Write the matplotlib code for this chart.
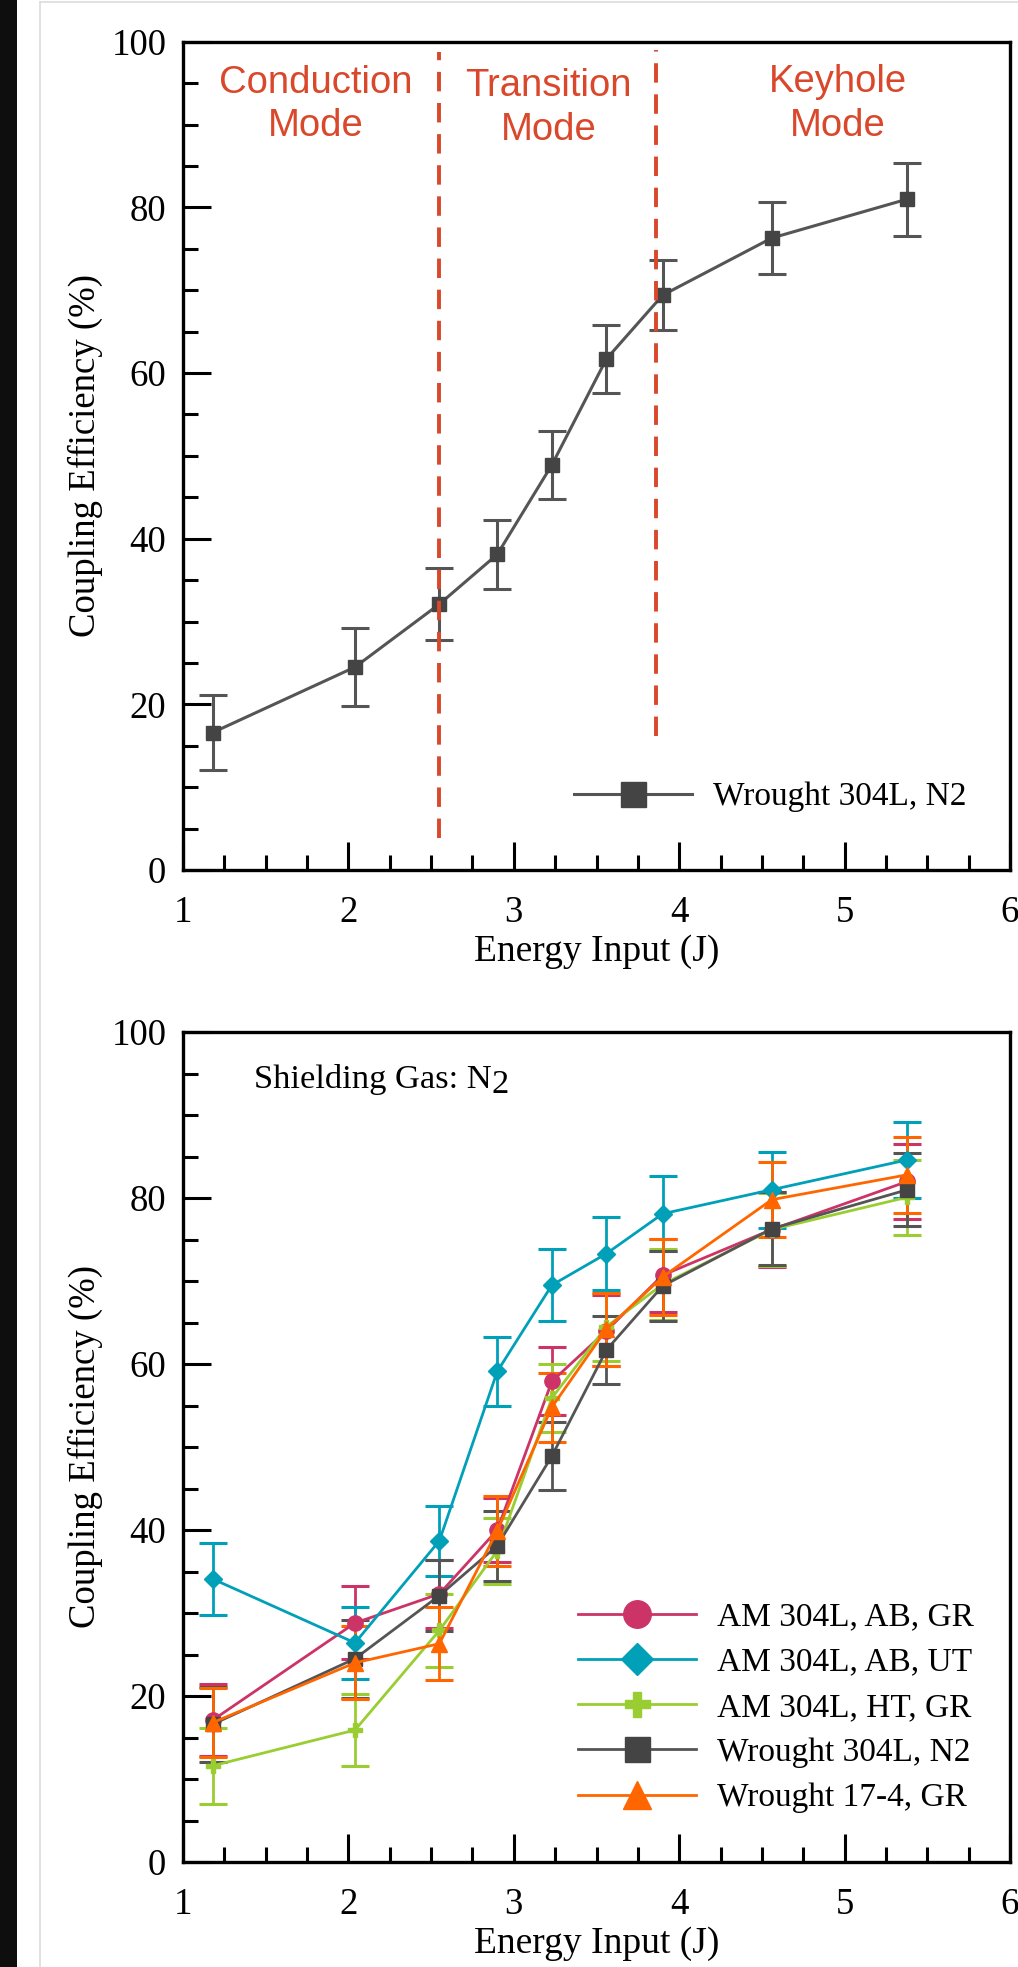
import numpy as np
from matplotlib import pyplot as plt
from matplotlib.ticker import MultipleLocator
from matplotlib.patches import Rectangle
from matplotlib.lines import Line2D


plt.rcParams['font.family'] = ['Liberation Serif', 'DejaVu Serif']


# energy input (J), shared by every series
energy = [1.18, 2.04, 2.55, 2.90, 3.23, 3.56, 3.90, 4.56, 5.38]

# coupling efficiency (%) and error
wrought_304    = [16.6, 24.5, 32.1, 38.1, 48.9, 61.7, 69.4, 76.3, 81.0]
wrought_304_e  = [4.5, 4.7, 4.3, 4.2, 4.1, 4.1, 4.25, 4.4, 4.4]
am_ab_gr       = [17.1, 28.8, 32.3, 40.0, 57.9, 64.0, 70.7, 76.2, 82.0]
am_ab_gr_e     = [4.3, 4.4, 4.1, 3.9, 4.1, 4.3, 4.4, 4.5, 4.5]
am_ab_ut       = [34.1, 26.4, 38.7, 59.1, 69.5, 73.3, 78.1, 81.0, 84.6]
am_ab_ut_e     = [4.3, 4.3, 4.2, 4.2, 4.3, 4.4, 4.5, 4.6, 4.6]
am_ht_gr       = [11.6, 15.9, 27.9, 37.5, 55.9, 64.5, 69.6, 76.2, 80.1]
am_ht_gr_e     = [4.6, 4.3, 4.4, 4.0, 4.15, 4.1, 4.3, 4.45, 4.5]
wrought_174    = [16.8, 24.0, 26.3, 39.9, 54.8, 64.2, 70.5, 79.8, 82.8]
wrought_174_e  = [4.2, 4.4, 4.4, 4.2, 4.15, 4.4, 4.6, 4.55, 4.55]

# mode boundaries (J) and labels
mode_bounds   = [2.55, 3.86]
mode_limits   = [(3.9, 98.7), (16.2, 99.0)]
mode_labels   = ['Conduction\nMode', 'Transition\nMode', 'Keyhole\nMode']
mode_label_x  = [1.80, 3.21, 4.96]
mode_label_y  = [92.4, 92.0, 92.5]

red = '#d9482b'

W, H, DPI = 1018, 1967, 100
fig = plt.figure(figsize=(W/DPI, H/DPI), dpi=DPI)

# page decorations: black strip and faint panel border
fig.patches.append(Rectangle((0, 0), 17/W, 1, transform=fig.transFigure,
                             facecolor='#0e0e0e', edgecolor='none'))
fig.lines.append(Line2D([40/W, 40/W], [0, 1-2/H], transform=fig.transFigure,
                        color='#dcdcdc', lw=1.2))
fig.lines.append(Line2D([40/W, 1], [1-2/H, 1-2/H], transform=fig.transFigure,
                        color='#dcdcdc', lw=1.2))

ax1 = fig.add_axes([183/W, 1-870/H, 827/W, 828.3/H])
ax2 = fig.add_axes([183/W, 1-1862/H, 827/W, 830/H])


def style_axes(ax):
    ax.set_xlim(1, 6)
    ax.set_ylim(0, 100)
    ax.xaxis.set_major_locator(MultipleLocator(1))
    ax.xaxis.set_minor_locator(MultipleLocator(0.25))
    ax.yaxis.set_major_locator(MultipleLocator(20))
    ax.yaxis.set_minor_locator(MultipleLocator(5))
    ax.tick_params(which='both', direction='in', top=False, right=False,
                   width=2.2, labelsize=26.5)
    ax.tick_params(axis='y', pad=12)
    ax.tick_params(axis='x', pad=18)
    ax.tick_params(which='major', length=20)
    ax.tick_params(which='minor', length=11)
    for s in ax.spines.values():
        s.set_linewidth(2.4)
    ax.set_xlabel('Energy Input (J)', fontsize=27)
    ax.set_ylabel('Coupling Efficiency (%)', fontsize=26.5)
    ax.xaxis.set_label_coords(0.5, -0.078)
    ax.yaxis.set_label_coords(-0.097, 0.5)


style_axes(ax1)
style_axes(ax2)

# --- top panel ---
dark = '#555555'
eb = ax1.errorbar(energy, wrought_304, yerr=wrought_304_e, color=dark, lw=2.2,
                  marker='s', ms=10, mfc='#444444', mec='#444444',
                  elinewidth=2.2, capsize=10.4, capthick=2.2, zorder=3)
for xb, (y0, y1) in zip(mode_bounds, mode_limits):
    ax1.plot([xb, xb], [y0, y1], color=red, lw=2.8,
             linestyle=(0, (5.0, 3.0)), zorder=4)
for xt, yt, tt in zip(mode_label_x, mode_label_y, mode_labels):
    ax1.text(xt, yt, tt, color=red, fontsize=27.5, family='Liberation Sans',
             ha='center', va='center', linespacing=1.27)
ax1.legend([eb[0]], ['Wrought 304L, N2'], loc='center left',
           bbox_to_anchor=(0.4728, 0.0881), frameon=False,
           fontsize=24, handlelength=3.55, handletextpad=0.63,
           borderpad=0, borderaxespad=0, markerscale=1.8)

# --- bottom panel ---
series = [
    ('AM 304L, AB, GR', am_ab_gr, am_ab_gr_e, '#cc3366', 'o', 11),
    ('AM 304L, AB, UT', am_ab_ut, am_ab_ut_e, '#00a0b8', 'D', 9),
    ('AM 304L, HT, GR', am_ht_gr, am_ht_gr_e, '#9acd32', 'P', 10),
    ('Wrought 304L, N2', wrought_304, wrought_304_e, dark, 's', 10),
    ('Wrought 17-4, GR', wrought_174, wrought_174_e, '#ff6600', '^', 11),
]
handles, labels = [], []
for lab, vals, errs, col, mk, ms in series:
    mc = '#444444' if col == dark else col
    c = ax2.errorbar(energy, vals, yerr=errs, color=col, lw=2.0,
                     marker=mk, ms=ms, mfc=mc, mec=mc,
                     elinewidth=2.0, capsize=10.4, capthick=2.2, zorder=3)
    handles.append(c[0])
    labels.append(lab)
ax2.legend(handles, labels, loc='center left',
           bbox_to_anchor=(0.4776, 0.186), frameon=False,
           fontsize=24, handlelength=3.55, handletextpad=0.63,
           labelspacing=0.44, borderpad=0, borderaxespad=0, markerscale=1.8)

t = ax2.text(1.43, 93.3, 'Shielding Gas: N', fontsize=24.8, va='baseline')
ax2.annotate('2', xy=(1, 0), xycoords=t, xytext=(0, -3.6),
             textcoords='offset points', fontsize=24.8, va='bottom', ha='left')

fig.savefig('out.png', dpi=DPI)
